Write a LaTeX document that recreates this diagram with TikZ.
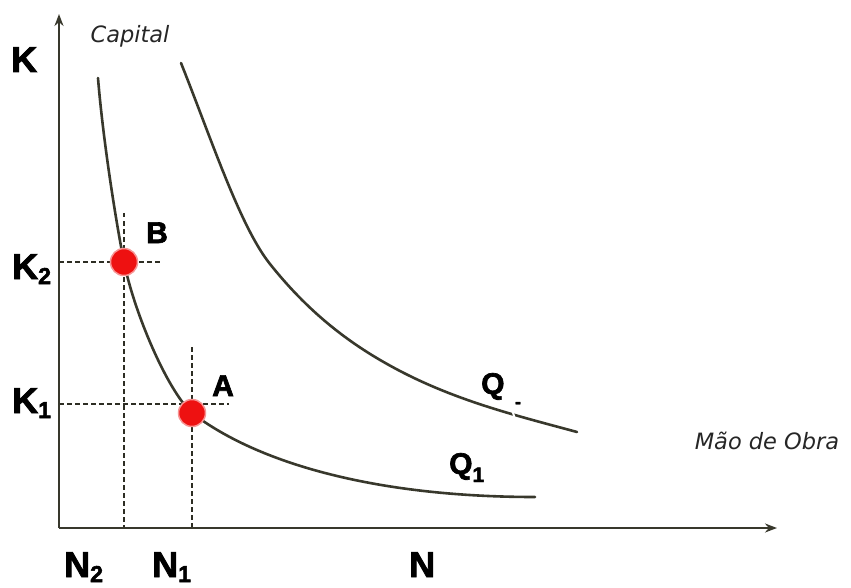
\documentclass[tikz,border=0pt]{standalone}
\usepackage{fontspec}
\setmainfont{Liberation Sans}
\newfontfamily\heavyfont{Liberation Sans Bold}[FakeBold=2.2]
\newfontfamily\handfont{DejaVu Sans}
\usetikzlibrary{arrows.meta}
\definecolor{axiscol}{HTML}{38382C}
\definecolor{dotred}{HTML}{EE1111}
\tikzset{
  axisline/.style={draw=axiscol, line width=2.6pt, -{Stealth[length=12pt,width=9pt]}},
  curveline/.style={draw=axiscol, line width=2.6pt, line cap=round, line join=round},
  guide/.style={draw=axiscol!80!black, line width=2.8pt, dash pattern=on 4.5pt off 3.5pt},
  biglabel/.style={inner sep=0pt, anchor=base west, font=\heavyfont\fontsize{36}{40}\selectfont},
  midlabel/.style={inner sep=0pt, anchor=base west, font=\heavyfont\fontsize{30}{34}\selectfont},
  axtext/.style={inner sep=0pt, font=\handfont\itshape\fontsize{22.5}{26}\selectfont, text=black!85},
  dot/.style={circle, fill=dotred, draw=dotred!45, line width=1.5pt, minimum size=27pt, inner sep=0pt}
}
\newcommand{\lsub}[1]{\raisebox{-5pt}{\fontsize{23}{26}\selectfont #1}}
\begin{document}
\begin{tikzpicture}[x=1pt,y=-1pt]
\useasboundingbox (0,0) rectangle (851,588);
% axes
\coordinate (O) at (59,528);
\coordinate (Ktip) at (59,14);
\coordinate (Ntip) at (777,528);
% guides
\coordinate (K2a) at (59,262);
\coordinate (K2b) at (161,262);
\coordinate (N2a) at (124,213);
\coordinate (N2b) at (124,528);
\coordinate (K1a) at (59,404);
\coordinate (K1b) at (229,404);
\coordinate (N1a) at (192,347);
\coordinate (N1b) at (192,528);
\draw[guide] (K2a) -- (K2b);
\draw[guide] (N2a) -- (N2b);
\draw[guide] (K1a) -- (K1b);
\draw[guide] (N1a) -- (N1b);
% curve Q1
\coordinate (Q1s) at (98,78);
\coordinate (Q1e) at (535,497);
\coordinate (Bp) at (124,262);
\coordinate (Ap) at (192,413);
\draw[curveline] (Q1s) .. controls (103,140) and (116,222) .. (Bp)
   .. controls (134,312) and (167,390) .. (Ap)
   .. controls (260,465) and (380,497) .. (Q1e);
% curve Q2
\coordinate (Q2s) at (181,63);
\coordinate (Q2a) at (270,264);
\coordinate (Q2b) at (400,371);
\coordinate (Q2e) at (577,432);
\draw[curveline] (Q2s) .. controls (211,138) and (240,226.5) .. (Q2a)
   .. controls (313,318) and (357,348.5) .. (Q2b)
   .. controls (459,401.7) and (518,416) .. (Q2e);
\draw[white, line width=2pt] (511,405) -- (515,420);
\draw[axisline] (O) -- (Ktip);
\draw[axisline] (O) -- (Ntip);
% dots
\node[dot] (B) at (Bp) {};
\node[dot] (A) at (Ap) {};
% labels
\node[biglabel] (Klab) at (11,72) {K};
\node[biglabel] (K2lab) at (12,279) {K\lsub{2}};
\node[biglabel] (K1lab) at (12,413) {K\lsub{1}};
\node[biglabel] (N2lab) at (64,577) {N\lsub{2}};
\node[biglabel] (N1lab) at (152,577) {N\lsub{1}};
\node[biglabel] (Nlab) at (409,577) {N};
\node[midlabel] (Blab) at (146,243) {B};
\node[midlabel] (Alab) at (212,396) {A};
\node[midlabel] (Q1lab) at (449,474) {Q\raisebox{-8pt}{\fontsize{21}{22}\selectfont 1}};
\node[midlabel] (Q2lab) at (481,394) {Q};
\node[inner sep=0pt, font=\heavyfont\fontsize{18}{20}\selectfont] (Q2sub) at (518,405) {-};
\node[axtext] (cap) at (130,36) {Capital};
\node[axtext] (mao) at (767,441) {Mão de Obra};
\end{tikzpicture}
\end{document}
